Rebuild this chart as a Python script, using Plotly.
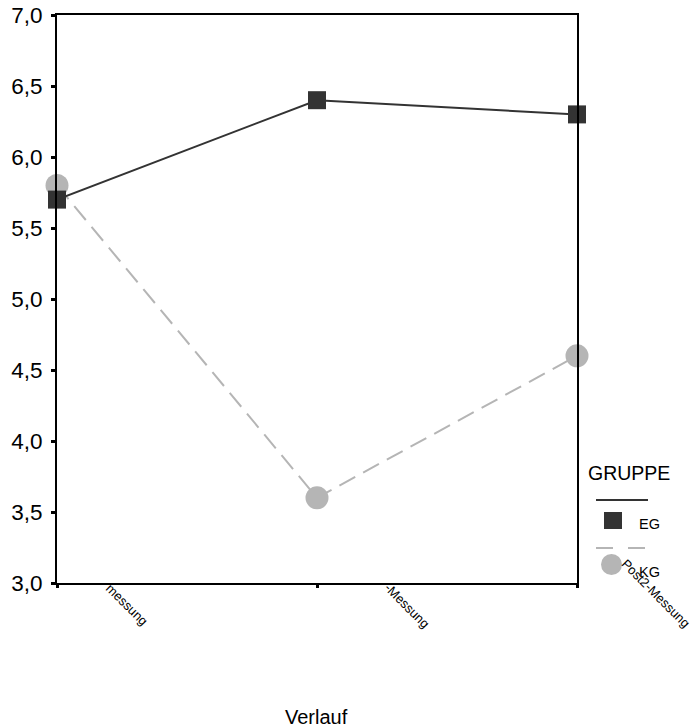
import plotly.graph_objects as go

categories = ["messung", "-Messung", "Post2-Messung"]
eg_values = [5.7, 6.4, 6.3]
kg_values = [5.8, 3.6, 4.6]
y_ticks = [3.0, 3.5, 4.0, 4.5, 5.0, 5.5, 6.0, 6.5, 7.0]
y_tick_labels = ["3,0", "3,5", "4,0", "4,5", "5,0", "5,5", "6,0", "6,5", "7,0"]

FONT = "Liberation Sans, Arial, sans-serif"
EG_COLOR = "#333333"
KG_COLOR = "#b5b5b5"

W, H = 692, 727
L, T = 57, 15
PW, PH = 520, 568
R = W - L - PW
B = H - T - PH


def px(xp):
    return (xp - L) / PW


def py(yp):
    return (H - B - yp) / PH


fig = go.Figure()
fig.add_trace(go.Scatter(
    x=categories, y=kg_values, mode="lines+markers", name="KG",
    line=dict(color=KG_COLOR, width=2, dash="18px,9px"),
    marker=dict(symbol="circle", size=23, color=KG_COLOR),
    cliponaxis=False, showlegend=False))
fig.add_trace(go.Scatter(
    x=categories, y=eg_values, mode="lines+markers", name="EG",
    line=dict(color=EG_COLOR, width=2),
    marker=dict(symbol="square", size=18, color=EG_COLOR),
    cliponaxis=False, showlegend=False))

fig.update_layout(
    width=W, height=H,
    margin=dict(l=L, r=R, t=T, b=B),
    paper_bgcolor="white", plot_bgcolor="white",
    font=dict(family=FONT, color="black"),
    xaxis=dict(
        type="category", range=[0, 2], showgrid=False, zeroline=False,
        showline=True, linecolor="black", linewidth=2, mirror=True,
        ticks="outside", ticklen=3, tickwidth=3, tickcolor="black",
        showticklabels=False, automargin=False,
    ),
    yaxis=dict(
        range=[3, 7], tickvals=y_ticks, ticktext=y_tick_labels,
        showgrid=False, zeroline=False,
        showline=True, linecolor="black", linewidth=2, mirror=True,
        ticks="outside", ticklen=4, tickwidth=3, tickcolor="black",
        tickfont=dict(size=22.5, family=FONT), automargin=False,
        ticklabelstandoff=4,
    ),
)

# rotated category labels (visible portions as in the reference)
label_offsets = [(70, 21), (90, 22), (79, 10)]
for cat, (dx, dy) in zip(categories, label_offsets):
    fig.add_annotation(x=cat, xref="x", y=0, yref="paper", text=cat,
                       showarrow=False, textangle=45, xanchor="center", yanchor="middle",
                       xshift=dx, yshift=-dy, font=dict(size=13, family=FONT))

# axis title
fig.add_annotation(xref="paper", yref="paper", x=px(316), y=py(717), text="Verlauf",
                   showarrow=False, xanchor="center", yanchor="middle",
                   font=dict(size=20, family=FONT))

# manual legend
fig.add_annotation(xref="paper", yref="paper", x=px(586), y=py(473),
                   text="GRUPPE", showarrow=False, xanchor="left", yanchor="middle",
                   font=dict(size=19.5, family=FONT))
fig.add_shape(type="line", xref="paper", yref="paper", x0=px(596), x1=px(648), y0=py(500), y1=py(500),
              line=dict(color=EG_COLOR, width=2))
fig.add_shape(type="rect", xref="paper", yref="paper", x0=px(604), x1=px(622), y0=py(512), y1=py(529),
              line=dict(width=0), fillcolor=EG_COLOR)
fig.add_annotation(xref="paper", yref="paper", x=px(637), y=py(524), text="EG", showarrow=False,
                   xanchor="left", yanchor="middle", font=dict(size=14.5, family=FONT))
fig.add_shape(type="line", xref="paper", yref="paper", x0=px(596), x1=px(648), y0=py(548), y1=py(548),
              line=dict(color=KG_COLOR, width=2, dash="17px,15px"))
fig.add_shape(type="circle", xref="paper", yref="paper", x0=px(601), x1=px(622), y0=py(554), y1=py(575),
              line=dict(width=0), fillcolor=KG_COLOR)
fig.add_annotation(xref="paper", yref="paper", x=px(637), y=py(572), text="KG", showarrow=False,
                   xanchor="left", yanchor="middle", font=dict(size=14.5, family=FONT))

fig.write_html("out.html", config={"displayModeBar": False},
               post_script="document.body.style.margin='0';document.body.style.overflow='hidden';")
